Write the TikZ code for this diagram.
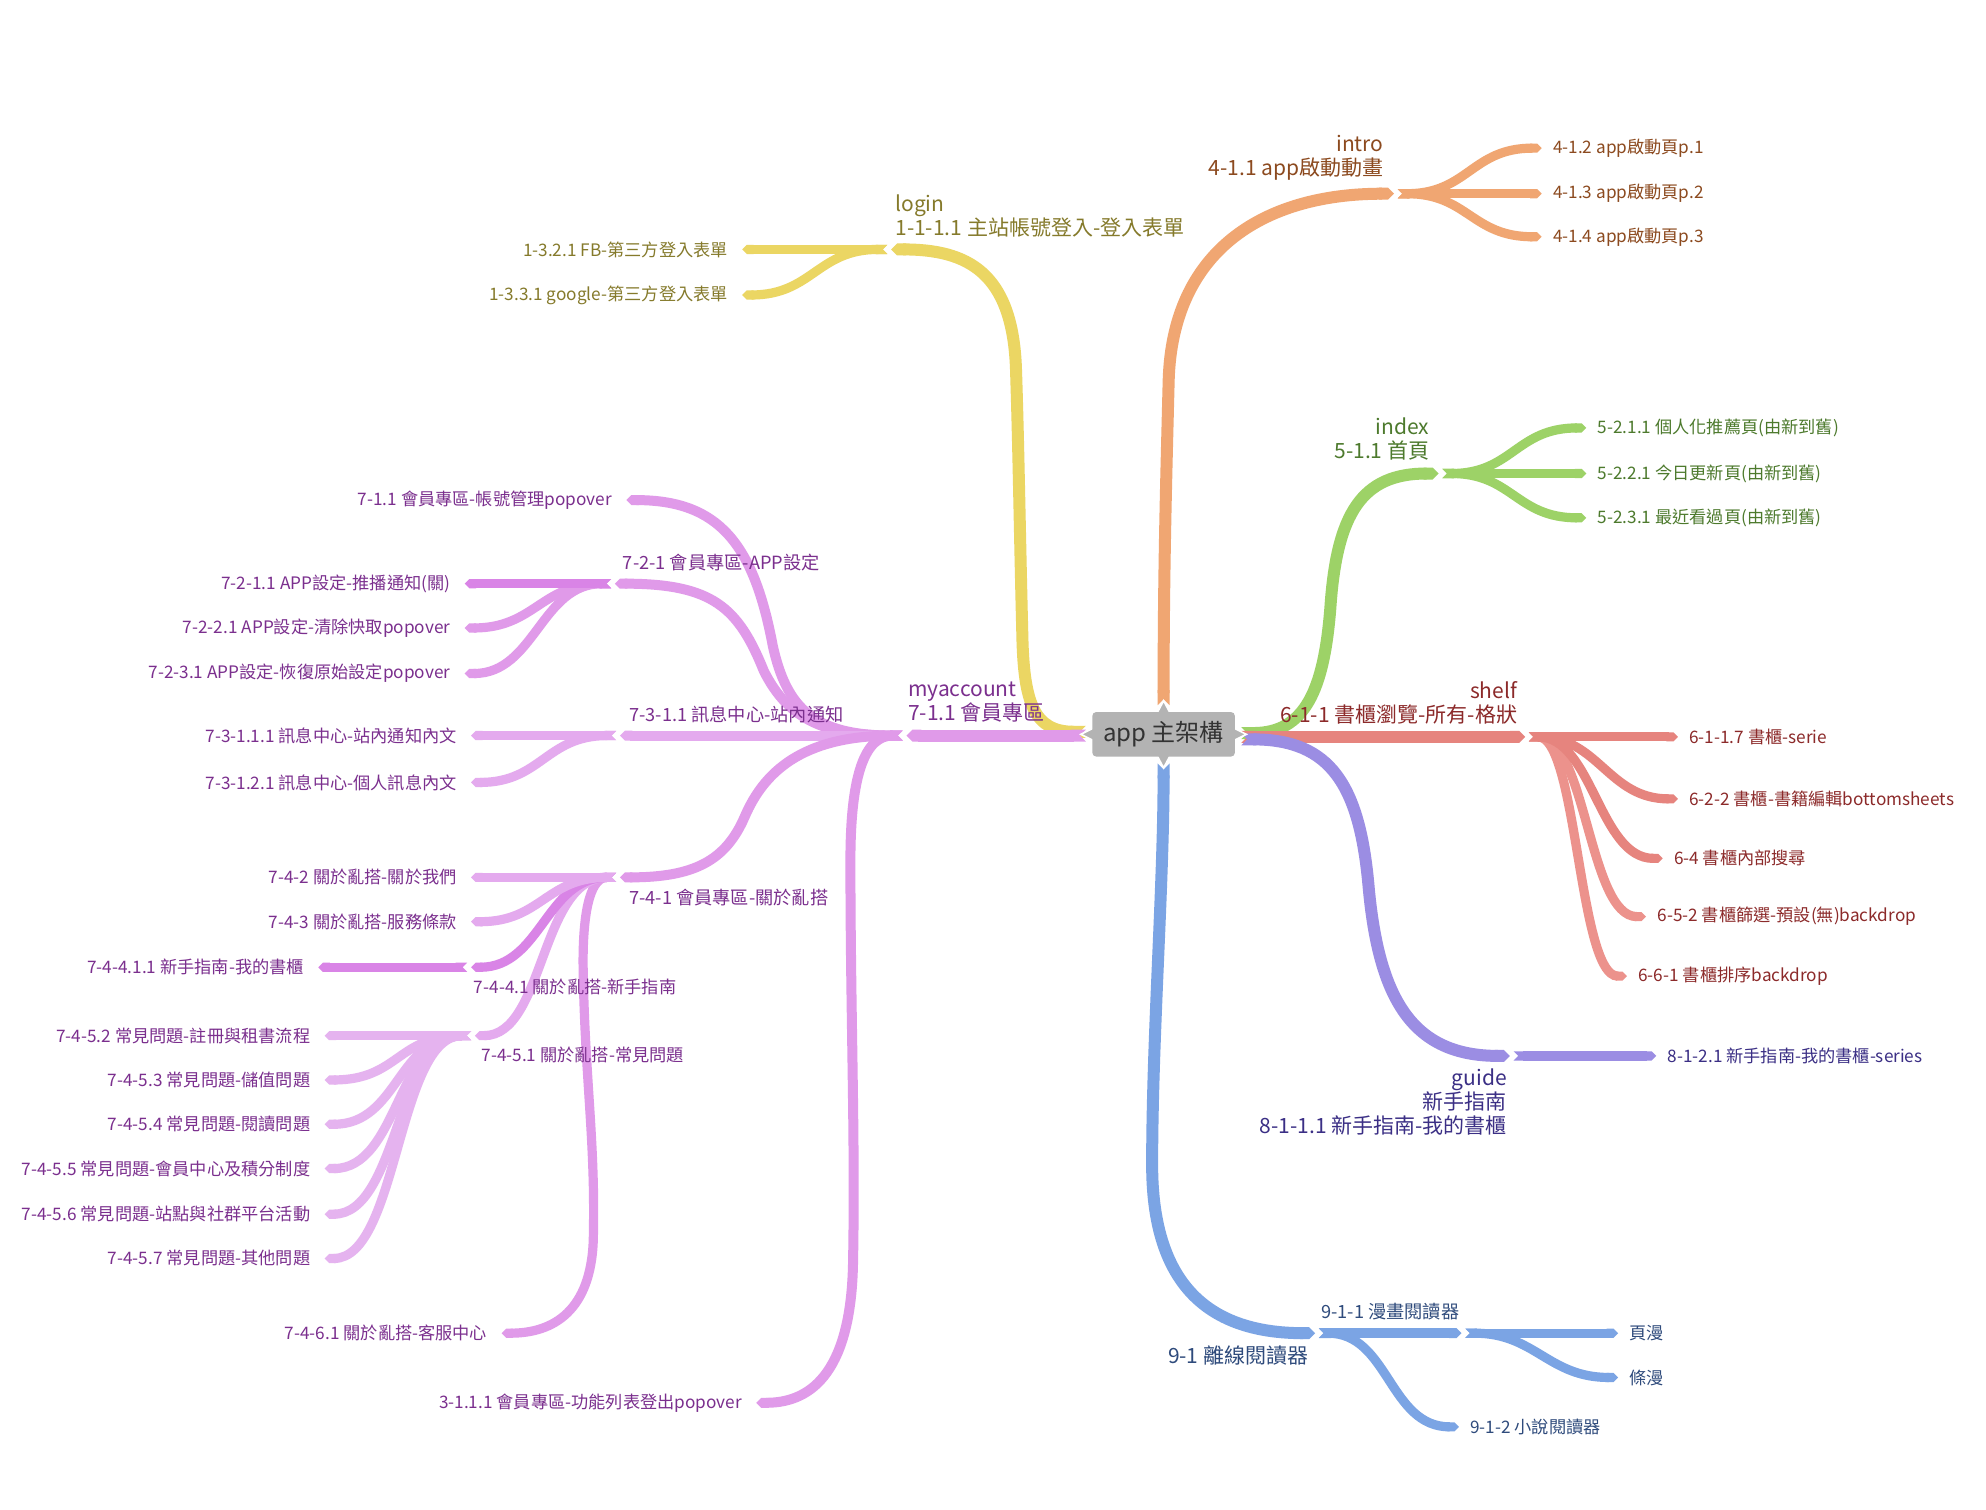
\documentclass[tikz,border=0pt]{standalone}
\usepackage{fontspec}
\setmainfont{Noto Sans CJK TC}
\usetikzlibrary{arrows.meta}
\definecolor{yl}{HTML}{EBD663}\definecolor{ylt}{HTML}{857A2B}
\definecolor{og}{HTML}{F0A672}\definecolor{ogt}{HTML}{8C4A1F}
\definecolor{gr}{HTML}{9DD267}\definecolor{grt}{HTML}{4D7A2D}
\definecolor{rd}{HTML}{E6847E}\definecolor{rdl}{HTML}{EC928C}\definecolor{rdt}{HTML}{8C2A2A}
\definecolor{pu}{HTML}{9B8DE3}\definecolor{put}{HTML}{3B2F85}
\definecolor{bl}{HTML}{7BA4E4}\definecolor{blt}{HTML}{2F4B7C}
\definecolor{pk}{HTML}{E09AE9}\definecolor{pkd}{HTML}{D984E6}\definecolor{pkl}{HTML}{E4AAEE}\definecolor{pkx}{HTML}{E5B3EF}
\definecolor{pkt}{HTML}{7B2F8E}
\definecolor{rootgray}{HTML}{B3B3B3}\definecolor{roott}{HTML}{333333}
\begin{document}
\begin{tikzpicture}[x=0.6365pt,y=-0.633pt,
  lk/.style={line width=#1, {Triangle Cap[reversed]}-{Triangle Cap}},
  lk/.default=4.6pt,
  lf/.style={inner sep=0pt, font=\fontsize{8.6}{10.5}\selectfont},
  l2/.style={inner sep=0pt, font=\fontsize{9.1}{11}\selectfont},
  l1/.style={inner sep=0pt, font=\fontsize{10.5}{12}\selectfont},
  rootn/.style={fill=rootgray, rounded corners=2pt, minimum width=71.3pt, minimum height=22.3pt, inner sep=0pt, text=roott, font=\fontsize{12}{14}\selectfont},
]
\useasboundingbox (0,0) rectangle (1560,1192.6);
\fill[white] (0,0) rectangle (1560,1192.6);
\coordinate (rc) at (914,580);
% ---------- coordinates
\coordinate (yS) at (853,578);
\coordinate (j1) at (700,197); \coordinate (s1) at (697,197);
\coordinate (e11) at (583,197); \coordinate (e12) at (583,233);
\coordinate (oS) at (914,557);
\coordinate (j4) at (1095,153); \coordinate (s4) at (1098,153);
\coordinate (e41) at (1211,117); \coordinate (e42) at (1211,153); \coordinate (e43) at (1211,187);
\coordinate (gS) at (975,579);
\coordinate (j5) at (1130,374); \coordinate (s5) at (1133,374);
\coordinate (e51) at (1246,338); \coordinate (e52) at (1246,374); \coordinate (e53) at (1246,409);
\coordinate (rS) at (975,582);
\coordinate (j6) at (1198,582); \coordinate (s6) at (1201,582);
\coordinate (e61) at (1318,582); \coordinate (e62) at (1318,631); \coordinate (e63) at (1306,678);
\coordinate (e64) at (1293,724); \coordinate (e65) at (1278,771);
\coordinate (pS) at (975,584);
\coordinate (j8) at (1186,834); \coordinate (s8) at (1189,834); \coordinate (e81) at (1301,834);
\coordinate (bS) at (914,603);
\coordinate (j9) at (1033,1053); \coordinate (s9) at (1036,1053);
\coordinate (j91) at (1148,1053); \coordinate (s91) at (1151,1053);
\coordinate (e911) at (1271,1053); \coordinate (e912) at (1271,1088); \coordinate (e92) at (1146,1127);
\coordinate (mS) at (853,581);
\coordinate (j7) at (712,581); \coordinate (s7) at (709,581);
\coordinate (e71) at (492,395);
\coordinate (j72) at (483,461); \coordinate (s72) at (480,461);
\coordinate (e721) at (365,461); \coordinate (e722) at (365,496); \coordinate (e723) at (365,532);
\coordinate (j73) at (487,581); \coordinate (s73) at (484,581);
\coordinate (e731) at (370,581); \coordinate (e732) at (370,618);
\coordinate (j74) at (487,693); \coordinate (s74) at (484,693);
\coordinate (e742) at (370,693); \coordinate (e743) at (370,728);
\coordinate (j744) at (370,764); \coordinate (s744) at (367,764); \coordinate (e7441) at (250,764);
\coordinate (j745) at (373,818); \coordinate (s745) at (370,818);
\coordinate (e7452) at (255,818); \coordinate (e7453) at (255,853); \coordinate (e7454) at (255,888);
\coordinate (e7455) at (255,923); \coordinate (e7456) at (255,959); \coordinate (e7457) at (255,994);
\coordinate (e746) at (394,1053);
\coordinate (e31) at (594,1108);
% ---------- yellow
\draw[lk=6pt, yl] (yS) .. controls (812,578) and (804,555) .. (803,500) .. controls (801,420) and (800,350) .. (798,290) .. controls (795,215) and (760,197) .. (j1);
\draw[lk, yl] (s1) -- (e11);
\draw[lk, yl] (s1) .. controls +(-55,0) and +(55,0) .. (e12);
% ---------- orange
\draw[lk=6pt, og] (oS) .. controls (914,450) and (916,380) .. (918,300) .. controls (921,200) and (990,153) .. (j4);
\draw[lk, og] (s4) .. controls +(55,0) and +(-55,0) .. (e41);
\draw[lk, og] (s4) -- (e42);
\draw[lk, og] (s4) .. controls +(55,0) and +(-55,0) .. (e43);
% ---------- green
\draw[lk=6pt, gr] (gS) .. controls (1025,579) and (1040,545) .. (1045,480) .. controls (1050,405) and (1070,374) .. (j5);
\draw[lk, gr] (s5) .. controls +(55,0) and +(-55,0) .. (e51);
\draw[lk, gr] (s5) -- (e52);
\draw[lk, gr] (s5) .. controls +(55,0) and +(-55,0) .. (e53);
% ---------- red
\draw[lk=6pt, rd] (rS) -- (j6);
\draw[lk, rdl] (s6) .. controls +(38,0) and +(-38,0) .. (e65);
\draw[lk, rdl] (s6) .. controls +(45,0) and +(-45,0) .. (e64);
\draw[lk, rd] (s6) .. controls +(50,0) and +(-50,0) .. (e63);
\draw[lk, rd] (s6) .. controls +(55,0) and +(-55,0) .. (e62);
\draw[lk, rd] (s6) -- (e61);
% ---------- purple
\draw[lk=6pt, pu] (pS) .. controls (1045,584) and (1068,620) .. (1075,700) .. controls (1083,790) and (1110,834) .. (j8);
\draw[lk, pu] (s8) -- (e81);
% ---------- blue
\draw[lk=6pt, bl] (bS) .. controls (914,700) and (905,820) .. (905,920) .. controls (905,1010) and (945,1053) .. (j9);
\draw[lk=5pt, bl] (s9) -- (j91);
\draw[lk, bl] (s91) -- (e911);
\draw[lk, bl] (s91) .. controls +(55,0) and +(-55,0) .. (e912);
\draw[lk, bl] (s9) .. controls +(55,0) and +(-55,0) .. (e92);
% ---------- pink
\draw[lk=6pt, pk] (mS) -- (j7);
\draw[lk=5pt, pk] (s7) .. controls (640,581) and (618,560) .. (607,510) .. controls (592,430) and (565,395) .. (e71);
\draw[lk=5pt, pk] (s7) .. controls (650,581) and (620,570) .. (600,530) .. controls (580,480) and (560,461) .. (j72);
\draw[lk=5pt, pkl] (s7) -- (j73);
\draw[lk=5pt, pk] (s7) .. controls (630,581) and (600,610) .. (585,645) .. controls (570,680) and (545,693) .. (j74);
\draw[lk=5pt, pk] (s7) .. controls (680,581) and (668,610) .. (668,680) .. controls (668,800) and (672,900) .. (670,1000) .. controls (668,1080) and (640,1108) .. (e31);
% 7-2-1 children
\draw[lk, pk] (s72) .. controls +(-55,0) and +(55,0) .. (e723);
\draw[lk, pk] (s72) .. controls +(-55,0) and +(55,0) .. (e722);
\draw[lk, pkd] (s72) -- (e721);
% 7-3-1.1 children
\draw[lk, pkl] (s73) -- (e731);
\draw[lk, pkl] (s73) .. controls +(-55,0) and +(55,0) .. (e732);
% 7-4-1 children
\draw[lk, pk] (s74) .. controls (465,693) and (458,715) .. (458,760) .. controls (459,850) and (468,900) .. (466,980) .. controls (464,1035) and (435,1053) .. (e746);
\draw[lk, pkl] (s74) .. controls +(-60,0) and +(55,0) .. (j745);
\draw[lk, pkd] (s74) .. controls +(-55,0) and +(55,0) .. (j744);
\draw[lk, pkl] (s74) .. controls +(-55,0) and +(55,0) .. (e743);
\draw[lk, pkl] (s74) -- (e742);
\draw[lk, pkd] (s744) -- (e7441);
% 7-4-5.1 children
\draw[lk, pkx] (s745) .. controls +(-58,0) and +(58,0) .. (e7457);
\draw[lk, pkx] (s745) .. controls +(-58,0) and +(58,0) .. (e7456);
\draw[lk, pkx] (s745) .. controls +(-58,0) and +(58,0) .. (e7455);
\draw[lk, pkx] (s745) .. controls +(-58,0) and +(58,0) .. (e7454);
\draw[lk, pkx] (s745) .. controls +(-58,0) and +(58,0) .. (e7453);
\draw[lk, pkx] (s745) -- (e7452);
% ---------- root
\fill[rootgray] (909,563) -- (914,553.5) -- (919,563) -- cycle;
\draw[white, line width=0.8pt] (909,563) -- (914,553.5) -- (919,563);
\fill[rootgray] (909,597) -- (914,606.5) -- (919,597) -- cycle;
\draw[white, line width=0.8pt] (909,597) -- (914,606.5) -- (919,597);
\fill[rootgray] (859,575) -- (849,580) -- (859,585) -- cycle;
\draw[white, line width=0.8pt] (859,575) -- (849,580) -- (859,585);
\fill[rootgray] (969,575) -- (979,580) -- (969,585) -- cycle;
\draw[white, line width=0.8pt] (969,575) -- (979,580) -- (969,585);
\node[rootn] (root) at (rc) {app 主架構};
% ---------- labels
\node[l1, ylt, anchor=south west, align=left] (t1) at (703,188) {login\\1-1-1.1 主站帳號登入-登入表單};
\node[lf, ylt, anchor=east, xshift=-7pt] (t11) at (e11) {1-3.2.1 FB-第三方登入表單};
\node[lf, ylt, anchor=east, xshift=-7pt] (t12) at (e12) {1-3.3.1 google-第三方登入表單};
\node[l1, ogt, anchor=south east, align=right] (t4) at (1087,143) {intro\\4-1.1 app啟動動畫};
\node[lf, ogt, anchor=west, xshift=5.5pt] (t41) at (e41) {4-1.2 app啟動頁p.1};
\node[lf, ogt, anchor=west, xshift=5.5pt] (t42) at (e42) {4-1.3 app啟動頁p.2};
\node[lf, ogt, anchor=west, xshift=5.5pt] (t43) at (e43) {4-1.4 app啟動頁p.3};
\node[l1, grt, anchor=south east, align=right] (t5) at (1123,364) {index\\5-1.1 首頁};
\node[lf, grt, anchor=west, xshift=5.5pt] (t51) at (e51) {5-2.1.1 個人化推薦頁(由新到舊)};
\node[lf, grt, anchor=west, xshift=5.5pt] (t52) at (e52) {5-2.2.1 今日更新頁(由新到舊)};
\node[lf, grt, anchor=west, xshift=5.5pt] (t53) at (e53) {5-2.3.1 最近看過頁(由新到舊)};
\node[l1, rdt, anchor=south east, align=right] (t6) at (1192,572) {shelf\\6-1-1 書櫃瀏覽-所有-格狀};
\node[lf, rdt, anchor=west, xshift=5.5pt] (t61) at (e61) {6-1-1.7 書櫃-serie};
\node[lf, rdt, anchor=west, xshift=5.5pt] (t62) at (e62) {6-2-2 書櫃-書籍編輯bottomsheets};
\node[lf, rdt, anchor=west, xshift=5.5pt] (t63) at (e63) {6-4 書櫃內部搜尋};
\node[lf, rdt, anchor=west, xshift=5.5pt] (t64) at (e64) {6-5-2 書櫃篩選-預設(無)backdrop};
\node[lf, rdt, anchor=west, xshift=5.5pt] (t65) at (e65) {6-6-1 書櫃排序backdrop};
\node[l1, put, anchor=north east, align=right] (t8) at (1184,844) {guide\\新手指南\\8-1-1.1 新手指南-我的書櫃};
\node[lf, put, anchor=west, xshift=5.5pt] (t81) at (e81) {8-1-2.1 新手指南-我的書櫃-series};
\node[l1, blt, anchor=north east] (t9) at (1028,1063) {9-1 離線閱讀器};
\node[l2, blt, anchor=south] (t91) at (1092,1043) {9-1-1 漫畫閱讀器};
\node[lf, blt, anchor=west, xshift=5.5pt] (t911) at (e911) {頁漫};
\node[lf, blt, anchor=west, xshift=5.5pt] (t912) at (e912) {條漫};
\node[lf, blt, anchor=west, xshift=5.5pt] (t92) at (e92) {9-1-2 小說閱讀器};
\node[l1, pkt, anchor=south west, align=left] (t7) at (713,571) {myaccount\\7-1.1 會員專區};
\node[lf, pkt, anchor=east, xshift=-7pt] (t71) at (e71) {7-1.1 會員專區-帳號管理popover};
\node[l2, pkt, anchor=south west] (t72) at (489,451) {7-2-1 會員專區-APP設定};
\node[lf, pkt, anchor=east, xshift=-7pt] (t721) at (e721) {7-2-1.1 APP設定-推播通知(關)};
\node[lf, pkt, anchor=east, xshift=-7pt] (t722) at (e722) {7-2-2.1 APP設定-清除快取popover};
\node[lf, pkt, anchor=east, xshift=-7pt] (t723) at (e723) {7-2-3.1 APP設定-恢復原始設定popover};
\node[l2, pkt, anchor=south west] (t73) at (494,571) {7-3-1.1 訊息中心-站內通知};
\node[lf, pkt, anchor=east, xshift=-7pt] (t731) at (e731) {7-3-1.1.1 訊息中心-站內通知內文};
\node[lf, pkt, anchor=east, xshift=-7pt] (t732) at (e732) {7-3-1.2.1 訊息中心-個人訊息內文};
\node[l2, pkt, anchor=north west] (t74) at (494,702) {7-4-1 會員專區-關於亂搭};
\node[lf, pkt, anchor=east, xshift=-7pt] (t742) at (e742) {7-4-2 關於亂搭-關於我們};
\node[lf, pkt, anchor=east, xshift=-7pt] (t743) at (e743) {7-4-3 關於亂搭-服務條款};
\node[lf, pkt, anchor=north west] (t744) at (372,773) {7-4-4.1 關於亂搭-新手指南};
\node[lf, pkt, anchor=east, xshift=-7pt] (t7441) at (e7441) {7-4-4.1.1 新手指南-我的書櫃};
\node[lf, pkt, anchor=north west] (t745) at (378,827) {7-4-5.1 關於亂搭-常見問題};
\node[lf, pkt, anchor=east, xshift=-7pt] (t7452) at (e7452) {7-4-5.2 常見問題-註冊與租書流程};
\node[lf, pkt, anchor=east, xshift=-7pt] (t7453) at (e7453) {7-4-5.3 常見問題-儲值問題};
\node[lf, pkt, anchor=east, xshift=-7pt] (t7454) at (e7454) {7-4-5.4 常見問題-閱讀問題};
\node[lf, pkt, anchor=east, xshift=-7pt] (t7455) at (e7455) {7-4-5.5 常見問題-會員中心及積分制度};
\node[lf, pkt, anchor=east, xshift=-7pt] (t7456) at (e7456) {7-4-5.6 常見問題-站點與社群平台活動};
\node[lf, pkt, anchor=east, xshift=-7pt] (t7457) at (e7457) {7-4-5.7 常見問題-其他問題};
\node[lf, pkt, anchor=east, xshift=-7pt] (t746) at (e746) {7-4-6.1 關於亂搭-客服中心};
\node[lf, pkt, anchor=east, xshift=-7pt] (t31) at (e31) {3-1.1.1 會員專區-功能列表登出popover};
\end{tikzpicture}
\end{document}
